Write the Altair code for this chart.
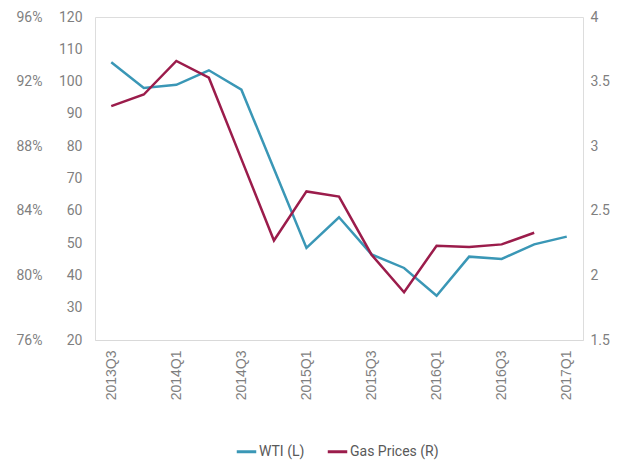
import altair as alt
import pandas as pd

quarters = ["2013Q3", "2013Q4", "2014Q1", "2014Q2", "2014Q3", "2014Q4", "2015Q1",
            "2015Q2", "2015Q3", "2015Q4", "2016Q1", "2016Q2", "2016Q3", "2016Q4", "2017Q1"]
wti = [106, 98, 99, 103.5, 97.5, 73, 48.5, 58, 46.5, 42.3, 33.7, 45.8, 45.1, 49.6, 52]
gas = [3.31, 3.40, 3.66, 3.53, 2.90, 2.27, 2.65, 2.61, 2.16, 1.87, 2.23, 2.22, 2.24, 2.33]
label_quarters = ["2013Q3", "2014Q1", "2014Q3", "2015Q1", "2015Q3", "2016Q1", "2016Q3", "2017Q1"]
pct_ticks = [0.76, 0.80, 0.84, 0.88, 0.92, 0.96]
left_ticks = [20, 30, 40, 50, 60, 70, 80, 90, 100, 110, 120]
right_ticks = [1.5, 2, 2.5, 3, 3.5, 4]
series = ["WTI (L)", "Gas Prices (R)"]
colors = ["#3a97b6", "#9b1c4b"]

df_wti = pd.DataFrame({"quarter": quarters, "v": wti, "s": series[0]})
df_gas = pd.DataFrame({"quarter": quarters[:len(gas)], "v": gas, "s": series[1]})
df_pct = pd.DataFrame({"quarter": [quarters[0]] * len(pct_ticks), "v": pct_ticks})

narrow = "Liberation Sans Narrow, Arial Narrow, Roboto, sans-serif"
gray = "#7f7f7f"

xenc = alt.X("quarter:N", sort=quarters, title=None,
             scale=alt.Scale(type="point", padding=0.5),
             axis=alt.Axis(values=label_quarters, labelAngle=-90, ticks=False,
                           domainColor="#d9d9d9", labelColor=gray, labelFontSize=14,
                           labelFont="Liberation Sans", labelPadding=10, grid=False))

color_scale = alt.Scale(domain=series, range=colors)
legend = alt.Legend(title=None, orient="none", direction="horizontal",
                    legendX=140, legendY=423, symbolType="stroke",
                    symbolStrokeWidth=3, symbolSize=380, labelFont=narrow,
                    labelFontSize=14, labelColor="#595959", columnPadding=16,
                    labelOffset=1)
cenc = alt.Color("s:N", scale=color_scale, legend=legend)

l1 = alt.Chart(df_wti).mark_line(strokeWidth=2.5).encode(
    x=xenc,
    y=alt.Y("v:Q", title=None, scale=alt.Scale(domain=[20, 120], nice=False, zero=False),
            axis=alt.Axis(orient="left", values=left_ticks, domain=False, ticks=False, grid=False,
                          labelColor=gray, labelFont=narrow, labelFontSize=14, labelPadding=13)),
    color=cenc,
)

l2 = alt.Chart(df_gas).mark_line(strokeWidth=2.5).encode(
    x=xenc,
    y=alt.Y("v:Q", title=None, scale=alt.Scale(domain=[1.5, 4], nice=False, zero=False),
            axis=alt.Axis(orient="right", values=right_ticks, format=".1~f", domain=False,
                          ticks=False, grid=False, labelColor=gray, labelFont=narrow,
                          labelFontSize=14, labelPadding=7)),
    color=cenc,
)

l3 = alt.Chart(df_pct).mark_point(opacity=0).encode(
    x=xenc,
    y=alt.Y("v:Q", title=None, scale=alt.Scale(domain=[0.76, 0.96], nice=False, zero=False),
            axis=alt.Axis(orient="left", values=pct_ticks, format=".0%", domain=False, ticks=False,
                          grid=False, offset=40, labelColor=gray, labelFont=narrow,
                          labelFontSize=14, labelPadding=13)),
)

chart = alt.layer(l1, l2, l3).resolve_scale(y="independent").properties(
    width=488, height=323,
    autosize=alt.AutoSizeParams(type="none"),
    padding={"left": 95, "top": 17, "right": 34, "bottom": 121},
).configure_view(stroke=None).configure(background="white")

chart.save("out.html", embed_options={"renderer": "svg", "actions": False})
